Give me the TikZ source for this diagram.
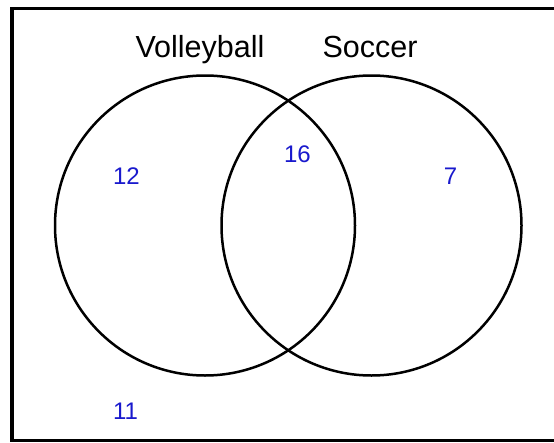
\documentclass[tikz,border=0pt]{standalone}
\usepackage{fontspec}
\setmainfont{Liberation Sans}
\definecolor{numblue}{RGB}{25,25,205}
\begin{document}
\begin{tikzpicture}[x={(1pt,0)},y={(0,-1pt)},
  setcircle/.style={circle,draw=black,line width=2.5pt,minimum size=300pt,inner sep=0pt},
  title/.style={anchor=base,inner sep=0pt,font=\fontsize{30.5}{36}\selectfont},
  count/.style={anchor=center,inner sep=0pt,text=numblue,font=\fontsize{24}{28}\selectfont}]
\useasboundingbox (0,0) rectangle (554,442);
\clip (0,0) rectangle (554,442);
\fill[white] (0,0) rectangle (554,442);
\draw[line width=3.8pt] (560,8.5) -- (12,8.5) -- (12,440.5) -- (560,440.5);
\node[setcircle] (V) at (205,225.5) {};
\node[setcircle] (S) at (371.5,225.5) {};
\node[title] (vt) at (200,57) {Volleyball};
\node[title] (st) at (370,57) {Soccer};
\node[count] (n12) at (126.5,176.5) {12};
\node[count] (n16) at (297.5,154) {16};
\node[count] (n7) at (450.5,176) {7};
\node[count] (n11) at (125.5,411) {11};
\end{tikzpicture}
\end{document}
